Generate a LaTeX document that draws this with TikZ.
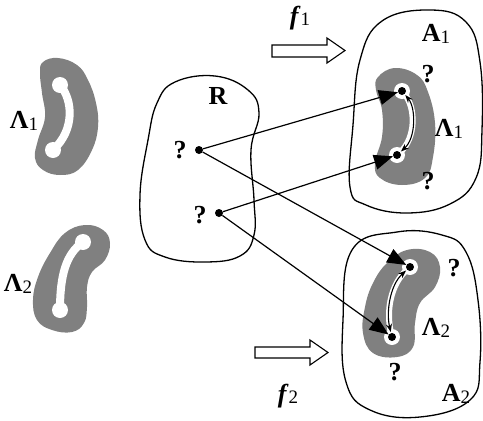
\documentclass[tikz,border=0pt]{standalone}
\usepackage{fontspec}
\setmainfont{Liberation Serif}
\usetikzlibrary{arrows.meta}
\definecolor{blobgray}{HTML}{808080}
\newcommand{\Lsub}[1]{\textbf{Λ}\raisebox{-1.5pt}{\fontsize{19}{20}\selectfont\mdseries #1}}
\newcommand{\Asub}[1]{\textbf{A}\raisebox{-1.5pt}{\fontsize{19}{20}\selectfont\mdseries #1}}
\newcommand{\fsub}[1]{\textbf{\textit{f}}\raisebox{-1.5pt}{\fontsize{19}{20}\selectfont\mdseries #1}}
\tikzset{
  region/.style={draw=black, line width=1.3pt, fill=white},
  blob/.style={fill=blobgray, draw=none},
  track/.style={draw=white, line width=8pt, line cap=round},
  hole/.style={circle, fill=white, minimum size=16pt, inner sep=0pt},
  pt/.style={circle, fill=black, minimum size=8pt, inner sep=0pt},
  maparrow/.style={-{Triangle[length=19pt,width=15pt]}, line width=1.2pt, shorten >=0pt},
  swaparrow/.style={{Stealth[length=8pt,width=6pt]}-{Stealth[length=8pt,width=6pt]},
    line width=1.1pt, shorten <=1pt, shorten >=1pt},
  halo/.style={draw=white, line width=6pt},
  lbl/.style={font=\fontsize{26}{27}\selectfont\bfseries, inner sep=0pt},
  blockarrow/.style={draw=black, line width=1.1pt, fill=white}
}
\begin{document}
\begin{tikzpicture}[x=1pt,y=-1pt]
  \useasboundingbox (0,0) rectangle (483,421);

  % regions R, A1, A2
  \draw[region] plot[smooth cycle, tension=0.7] coordinates {
    (175,82) (215,76) (248,90) (259,113) (251,150) (254,200) (254,235)
    (240,256) (205,262) (165,257) (145,240) (140,195) (148,140) (157,103)};
  \draw[region] plot[smooth cycle, tension=0.7] coordinates {
    (360,60) (382,21) (430,10) (466,22) (480,62) (482,130) (476,178)
    (450,204) (407,213) (366,205) (350,187) (353,125)};
  \draw[region] plot[smooth cycle, tension=0.7] coordinates {
    (352,250) (397,232) (442,235) (466,252) (478,300) (480,362) (470,400)
    (420,417) (370,410) (346,382) (343,320)};

  % gray sets
  \fill[blob] plot[smooth cycle, tension=0.7] coordinates {
    (43,62) (58,58) (77,65) (88,80) (96,103) (98,127) (92,150) (78,170)
    (60,175) (43,170) (35,158) (38,140) (45,117) (42,93) (40,73)};
  \fill[blob] plot[smooth cycle, tension=0.7] coordinates {
    (85,225) (103,230) (110,243) (105,260) (92,272) (87,287) (87,307)
    (84,323) (72,332) (52,330) (37,320) (33,300) (38,277) (50,253) (65,233)};
  \fill[blob] plot[smooth cycle, tension=0.7] coordinates {
    (378,77) (395,68) (417,75) (428,92) (435,123) (433,157) (425,178)
    (402,185) (380,178) (375,163) (382,137) (382,110) (376,90)};
  \fill[blob] plot[smooth cycle, tension=0.7] coordinates {
    (407,250) (430,252) (440,267) (435,287) (420,303) (415,323) (413,347)
    (397,357) (373,353) (363,333) (365,307) (373,283) (387,263)};

  % white holes in the gray sets
  \draw[track] (60,85) .. controls (73,100) and (75,130) .. (53,150);
  \node[hole] (l1t) at (60,85) {};
  \node[hole] (l1b) at (53,150) {};
  \draw[track] (83,242) .. controls (66,254) and (60,275) .. (60,310);
  \node[hole] (l2t) at (83,242) {};
  \node[hole] (l2b) at (60,310) {};
  \node[hole] (h1t) at (402,91) {};
  \node[hole] (h1b) at (397,155) {};
  \node[hole] (h2t) at (410,267) {};
  \node[hole] (h2b) at (392,337) {};

  % points
  \node[pt] (r1) at (199,150) {};
  \node[pt] (r2) at (219,213) {};
  \node[pt] (a1t) at (402,91) {};
  \node[pt] (a1b) at (397,155) {};
  \node[pt] (a2t) at (410,267) {};
  \node[pt] (a2b) at (392,337) {};

  % swaps inside the images
  \draw[halo] (a1t) .. controls (416,108) and (416,138) .. (a1b);
  \draw[swaparrow] (a1t) .. controls (416,108) and (416,138) .. (a1b);
  \draw[halo] (a2b) .. controls (386,312) and (390,285) .. (a2t);
  \draw[swaparrow] (a2b) .. controls (386,312) and (390,285) .. (a2t);

  % maps from R
  \draw[maparrow] (r1) -- (a1t);
  \draw[maparrow] (r1) -- (a2t);
  \draw[maparrow] (r2) -- (a1b);
  \draw[maparrow] (r2) -- (a2b);

  % block arrows f1, f2
  \draw[blockarrow] (272,45) -- (327,45) -- (327,38) -- (345,50.5) -- (327,63)
    -- (327,57) -- (272,57) -- cycle;
  \draw[blockarrow] (255,347) -- (310,347) -- (310,340) -- (328,352.5) -- (310,365)
    -- (310,358) -- (255,358) -- cycle;

  % labels
  \node[lbl] (lam1) at (24,121) {\Lsub{1}};
  \node[lbl] (lam2) at (18,284) {\Lsub{2}};
  \node[lbl] (rlab) at (218,96) {R};
  \node[lbl] (q1) at (180,150) {?};
  \node[lbl] (q2) at (200,215) {?};
  \node[lbl] (alab1) at (436,34) {\Asub{1}};
  \node[lbl] (alab2) at (456,394) {\Asub{2}};
  \node[lbl] (qa1) at (428,74) {?};
  \node[lbl] (qb1) at (428,181) {?};
  \node[lbl] (lam3) at (449,129) {\Lsub{1}};
  \node[lbl] (qa2) at (454,268) {?};
  \node[lbl] (qb2) at (395,372) {?};
  \node[lbl] (lam4) at (436,328) {\Lsub{2}};
  \node[lbl] (flab1) at (300,18) {\fsub{1}};
  \node[lbl] (flab2) at (288,396) {\fsub{2}};
\end{tikzpicture}
\end{document}
